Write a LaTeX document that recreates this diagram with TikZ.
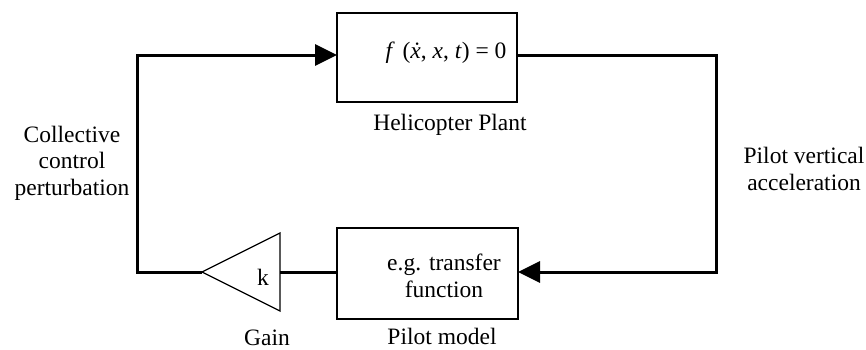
\documentclass[tikz,border=0pt]{standalone}
\usepackage{fontspec}
\setmainfont{Liberation Serif}
\usetikzlibrary{arrows.meta,calc}
\begin{document}
\begin{tikzpicture}[x=1pt,y=-1pt,
  every node/.style={font=\fontsize{23.5}{26.5}\selectfont},
  blockbox/.style={draw,line width=1.3pt,inner sep=0pt},
  wire/.style={line width=3pt},
  arrowwire/.style={wire,-{Triangle[length=22pt,width=21pt]}},
  lbl/.style={align=center,inner sep=0pt}]
\useasboundingbox (0,0) rectangle (866,349);
% blocks
\node[blockbox,minimum width=180pt,minimum height=89pt] (plant) at (427,57.5) {};
\node[lbl,anchor=center] (formula) at (446,53) {\textit{f}\,\,(\textit{\.x}, \textit{x}, \textit{t}) = 0};
\node[blockbox,minimum width=181pt,minimum height=91pt] (pilot) at (427.5,273.5) {};
\node[lbl] (tf) at (444,276) {e.g. transfer\\function};
% gain triangle
\coordinate (gtip) at (202,272);
\coordinate (gtop) at (280,233);
\coordinate (gbot) at (280,311);
\coordinate (gin) at (280,272);
\draw[line width=1.3pt,line join=miter] (gtip) -- (gtop) -- (gbot) -- cycle;
\node[lbl] (k) at (263,277) {k};
% corner coordinates
\coordinate (pin) at (337,55);
\coordinate (pout) at (517,55);
\coordinate (rc1) at (716,55);
\coordinate (rc2) at (716,272);
\coordinate (pilin) at (518,272);
\coordinate (lc1) at (137,272);
\coordinate (lc2) at (137,55);
% connectors
\draw[wire,line join=miter] (pout) -- (rc1) -- (rc2) -- ++(-1,0);
\draw[arrowwire] (rc2) -- (pilin);
\draw[wire] (gin -| pilot.west) -- (gin);
\draw[wire,line join=miter] (gtip) -- (lc1) -- (lc2) -- ++(1,0);
\draw[arrowwire] (lc2) -- (pin);
% labels
\node[lbl,anchor=base] (plantlbl) at (450,130) {Helicopter Plant};
\node[lbl,anchor=base,text depth=0pt] (pilotlbl) at (442,344) {Pilot model};
\node[lbl,anchor=base,text depth=0pt] (gainlbl) at (267,345) {Gain};
\node[lbl] (acc) at (804,169) {Pilot vertical\\acceleration};
\node[lbl] (coll) at (72,163) {Collective\\control\\perturbation};
\end{tikzpicture}
\end{document}
